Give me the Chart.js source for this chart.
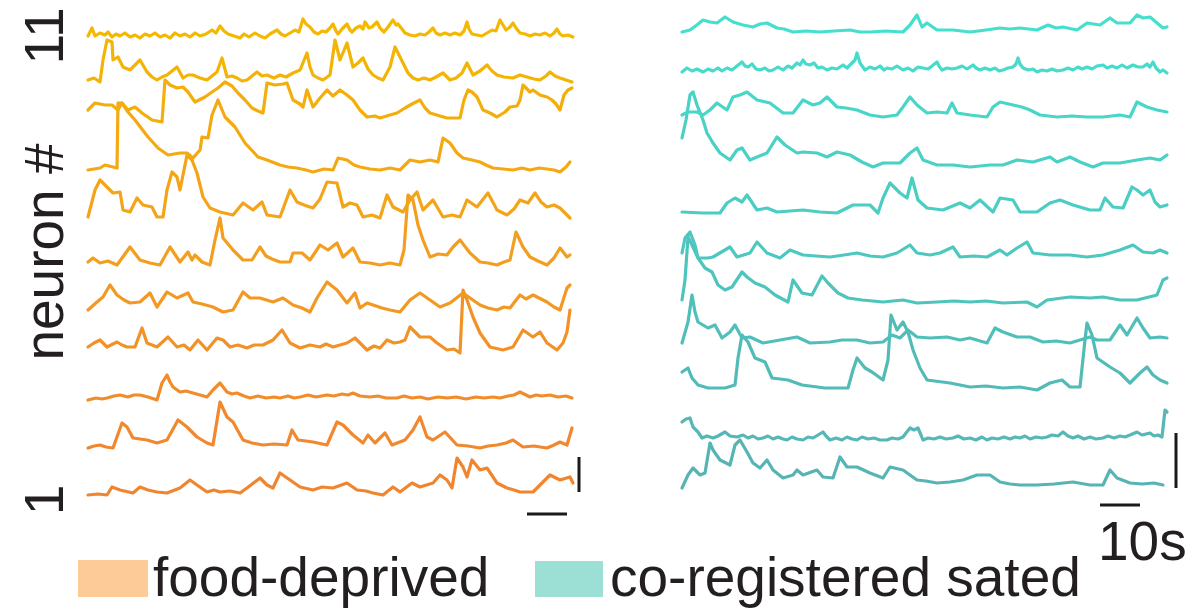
<!DOCTYPE html>
<html>
<head>
<meta charset="utf-8">
<title>Calcium traces</title>
<script src="https://cdn.jsdelivr.net/npm/chart.js@4.4.1/dist/chart.umd.min.js"></script>
<style>
  html, body { margin: 0; padding: 0; background: #fff; }
  body { width: 1192px; height: 613px; position: relative; overflow: hidden;
         font-family: "Liberation Sans", Arial, sans-serif; color: #231f20; }
  canvas { position: absolute; top: 0; }
  #deprivedChart { left: 0; }
  #satedChart { left: 600px; }
  .swatch { position: absolute; }
  .legend-text { position: absolute; font-size: 55px; line-height: 55px; white-space: nowrap; }
</style>
</head>
<body>
<canvas id="deprivedChart" width="600" height="525"></canvas>
<canvas id="satedChart" width="592" height="575"></canvas>

<div class="swatch" style="left:78px; top:560px; width:70px; height:37px; background:#fdcb97;"></div>
<div class="legend-text" style="left:153px; top:550px;">food-deprived</div>
<div class="swatch" style="left:535px; top:561px; width:68px; height:36px; background:#9ce0d5;"></div>
<div class="legend-text" style="left:610px; top:550px;">co-registered sated</div>

<script>
// time in s, signal in ΔF units; one list per neuron, [t, value] pairs
const neuronLabels = ['11', '10', '9', '8', '7', '6', '5', '4', '3', '2', '1'];

// food-deprived session
const fdN11 = [[0,1],[1,9],[1.75,1],[3,4],[4.25,2],[5,5],[6,0],[7,3],[8,1],[9.25,4],[10.5,0],[11.75,2],[13,-1],[14.25,3],[15.5,1],[16.75,4],[18,0],[19.25,2],[20.5,-1],[21.75,4],[23,1],[24.25,3],[25.5,0],[26.75,4],[28,1],[29.5,3],[31,7],[32,4],[33,11],[34,6],[35,3],[36.5,1],[38,-1],[39,3],[40.25,0],[41.75,4],[43,1],[44.25,-1],[45.5,3],[47.25,7],[48.25,3],[49.25,1],[50.5,4],[51.75,7],[52.75,5],[53.75,18],[54.5,13],[55.5,10],[56.5,5],[57.5,3],[58.5,6],[59.5,5],[60.5,9],[61.25,13],[62,6],[62.5,3],[63.5,8],[64.75,13],[65.5,7],[66,5],[67,9],[68,11],[68.75,8],[69.25,15],[70.25,9],[71,10],[72.25,15],[73,9],[74,5],[75,10],[76.25,17],[77,12],[77.5,13],[78.5,8],[79.25,4],[80.5,2],[81.75,1],[83,3],[84.25,2],[85.25,5],[86.25,9],[87,4],[88,2],[89.25,4],[90.5,2],[91.75,4],[93,2],[94,6],[94.75,15],[95.25,8],[96,3],[97.25,2],[98.5,1],[99.75,4],[101,7],[102,6],[103,17],[103.75,12],[104.5,7],[105.5,10],[106.25,14],[107,9],[108,4],[109.25,3],[110.5,1],[111.75,3],[113,2],[114.25,4],[115.5,1],[116.5,4],[117.25,8],[118,3],[118.75,1],[120,2],[121.25,0]];
const fdN10 = [[0,1],[1.5,3],[3,-1],[3.75,21],[4.75,41],[6,39],[6.25,21],[7.5,24],[8.75,14],[10.5,11],[11.75,16],[13,21],[14.75,9],[16,4],[17.25,1],[18.5,4],[19.75,6],[21,10],[22.25,14],[23.75,3],[25,6],[26.25,6],[28,3],[29.75,1],[31,5],[32.25,9],[33.5,23],[34.75,4],[36,5],[37.25,3],[38.5,0],[39.75,1],[41,5],[42.25,9],[43.5,5],[44.75,6],[46.5,3],[48,6],[49.5,4],[51.25,8],[53,11],[54.75,28],[55.5,14],[56.25,6],[57.5,3],[58.75,1],[60.5,6],[61.75,41],[63,21],[64.75,38],[66.25,14],[67.5,18],[68.75,23],[70,12],[71.25,6],[72.5,3],[73.75,1],[75.5,14],[76.75,34],[78.75,18],[80,8],[81.25,3],[82.5,1],[84,3],[85.5,1],[87,4],[88.75,8],[90.5,1],[92,3],[93.5,8],[94.75,18],[96.25,6],[98,10],[99.75,16],[101,10],[102.25,6],[104,4],[106.25,3],[108,6],[109.75,4],[111.5,2],[113,1],[114.5,5],[115.5,9],[116.75,5],[118,3],[119.5,1],[121,-1]];
const fdN9 = [[0,0],[1.75,7],[4.25,5],[6,5],[7.5,0],[8.5,7],[10,0],[11.75,3],[13.5,-3],[16,-10],[18.5,-12],[19.25,30],[20.5,25],[22.25,22],[23.75,23],[25,18],[26.75,8],[29.25,13],[31,18],[32.5,22],[34.25,28],[36,24],[37.5,17],[39.25,10],[41,2],[42.5,-1],[43.75,-3],[44.75,27],[46.75,25],[48.75,26],[49.75,27],[51.25,10],[53,6],[53.75,3],[54.75,20],[56.25,3],[58,12],[59.75,20],[61.25,14],[63,20],[64.75,15],[66.25,10],[68,0],[69.75,-7],[71.75,-6],[73,-8],[75.5,-5],[77.25,-3],[79.25,2],[81,6],[83,10],[84.25,2],[85.5,-3],[88,-6],[89.75,-8],[93,-8],[94,10],[95,20],[96,18],[97.25,13],[98.75,0],[100.5,-3],[102.25,-7],[104.25,-2],[105.5,3],[107.25,4],[108,10],[108.75,25],[110.5,18],[111.25,20],[113,15],[114.75,13],[116,10],[117,6],[118,0],[119,15],[120,20],[121,22]];
const fdN8 = [[0,-1],[3,1],[4.25,4],[6.25,2],[7.25,1],[7.5,66],[8.5,66],[10,57],[11.75,49],[15,32],[17.5,21],[20,14],[23,16],[24.75,16],[26.25,11],[28,19],[28.5,32],[30,31],[31,54],[32.5,69],[34.25,52],[36.75,42],[39.25,26],[42.5,12],[44.75,9],[48,4],[50,2],[52.25,1],[54.5,-1],[56.25,-3],[59,0],[61.25,-1],[62.5,11],[64.75,9],[66.5,4],[68,2],[70.5,0],[73,-1],[75.5,1],[78,-1],[80.5,9],[83,7],[85.5,9],[87.5,7],[88.75,31],[90.5,26],[92.25,16],[93.75,11],[96,9],[98,7],[99.5,4],[101.25,1],[103.75,0],[106.25,-1],[108.5,1],[110.5,-1],[112.75,1],[114.75,0],[116.5,-1],[118,-3],[119.5,2],[120.5,7]];
const fdN7 = [[0,0],[1.75,27],[3,37],[4.75,30],[6.25,24],[8,25],[8.75,7],[10.5,5],[12.25,19],[13.75,12],[16,10],[17.25,0],[18.75,0],[19.75,27],[21,45],[22.25,40],[23,27],[24.75,62],[26,57],[27.25,44],[28.75,20],[30.5,9],[33,5],[36.25,2],[38.75,14],[41.25,7],[43.5,15],[44.75,2],[48,0],[50.5,27],[52.25,15],[54,12],[56.25,9],[58,18],[59.75,35],[62.25,34],[63.75,10],[65.5,14],[67.25,12],[68.75,0],[71,2],[73,-1],[74.75,22],[76.25,10],[78.75,5],[80.5,17],[82.25,25],[83.75,7],[86.25,17],[88.75,0],[91,2],[93,0],[94.75,17],[97.25,10],[100,24],[102.25,7],[104.75,2],[106.5,8],[108,17],[110,14],[111.75,24],[113.25,15],[114.75,10],[116.5,12],[118,9],[120.5,-1]];
const fdN6 = [[0,2],[1.25,6],[3,1],[5,3],[7.25,-1],[10.5,17],[13,4],[15.5,1],[18,-1],[20.5,17],[23,2],[25,12],[26,4],[26.75,9],[28.5,2],[30.5,-1],[31.75,24],[33,46],[33.75,26],[36.25,14],[38.75,4],[41,4],[43,17],[44.5,8],[46,5],[48,2],[50.5,2],[51.25,11],[53.5,11],[55.5,4],[58,19],[60,14],[62.25,21],[63.75,7],[66.25,16],[68,2],[70.5,1],[73,-1],[75.5,1],[78,-1],[79,14],[80,69],[81.25,64],[82.5,39],[83.75,24],[85.5,7],[87.5,10],[89.75,9],[91.25,17],[93,24],[95.5,11],[98,2],[100,1],[102.25,-1],[104,2],[105.5,4],[107,32],[108.75,17],[110.5,7],[112.5,3],[114.75,-1],[116.5,6],[118,16],[119.75,7],[120.5,9]];
const fdN5 = [[0,-2],[2.25,6],[3.75,11],[5.5,23],[7.25,13],[9,8],[10.5,5],[13,6],[15.5,15],[17.25,1],[19.75,16],[22.25,10],[25,15],[26.25,6],[28.5,4],[31.25,1],[33.75,-4],[36.25,-2],[38.75,16],[40.5,10],[43,10],[46.25,6],[48.75,10],[51.25,3],[53.5,0],[55.5,-4],[57.25,10],[59.75,26],[62.25,18],[64.75,5],[66.75,15],[68,0],[69.75,5],[71.25,3],[73.5,0],[75.5,-2],[78,-4],[80.5,8],[83,15],[85.5,8],[88,1],[90.5,5],[93.75,15],[95.5,10],[98,3],[100,0],[102.25,-2],[104,1],[105.5,0],[108,13],[109.5,9],[111.25,13],[114.75,6],[116.5,1],[118,-2],[119.75,20],[120.5,23]];
const fdN4 = [[0,0],[1.5,4],[3,7],[4.75,0],[7.25,5],[8.5,2],[9.75,0],[11.75,0],[13.5,19],[14.75,4],[17.25,0],[20,10],[22.25,0],[24,2],[25.5,-3],[27.5,7],[29.75,-3],[32.25,9],[33.75,7],[35.5,0],[37.5,2],[39.75,-1],[41.5,2],[43.75,2],[46.25,7],[48.5,17],[50.5,4],[53,-1],[55.5,2],[58,0],[59.5,3],[61.25,0],[64.75,4],[66.75,9],[69.75,-3],[71.5,1],[73,-1],[74.75,7],[76.5,4],[78,5],[79.25,7],[80.5,20],[83,10],[85.5,10],[87.25,4],[89.75,-3],[91.5,-2],[93,-6],[93.75,57],[94.75,47],[96.25,30],[98,14],[100.5,0],[103.75,-3],[106.25,0],[108.75,17],[111.25,10],[113,15],[114.75,4],[117.25,-3],[118.75,4],[119.75,15],[120.5,37]];
const fdN3 = [[0,-2],[2,0],[3.5,-1],[4.75,0],[6.5,2],[8,3],[10,1],[11.5,3],[13,3],[15,1],[17.25,-2],[18.5,15],[19.75,23],[20.5,16],[21.25,11],[23,6],[24.5,7],[26.25,5],[28,3],[29.75,1],[31.25,8],[33,15],[34.75,6],[36,4],[37.25,5],[39,2],[40.5,0],[42.5,2],[44.5,0],[46.5,1],[48,0],[50,2],[51.5,0],[53,1],[55,3],[57,1],[59.75,3],[61.5,2],[63.5,4],[65,3],[66.25,5],[68,2],[70.5,1],[72.5,2],[74.5,0],[77.25,0],[79,2],[81,0],[83,1],[85,-1],[87.5,1],[89.75,0],[92,1],[94.5,-1],[97,1],[99,0],[101.25,1],[103,0],[105,2],[106.5,3],[108,6],[109,4],[110.5,1],[112,3],[113.5,2],[115.5,3],[117.5,1],[119.5,2],[121,0]];
const fdN2 = [[0,-1],[1.5,1],[3,2],[4.5,0],[6.25,-1],[8.5,24],[9.75,20],[11.25,9],[13,8],[14.75,7],[17.25,4],[19.75,7],[22.5,27],[24.75,20],[27.25,10],[29.75,4],[31.25,2],[33,45],[34.75,30],[36.25,25],[38.75,7],[41,4],[43.75,2],[46.5,3],[49.75,2],[51,17],[52.5,7],[54.5,6],[56.25,5],[59.75,2],[62.25,25],[63.75,22],[66.25,12],[68.75,4],[70,12],[71.75,4],[74.25,14],[76,2],[79.25,7],[81.25,17],[83,30],[84.75,10],[86.25,7],[89.25,15],[92.25,2],[95,1],[98,-1],[100,1],[102.25,2],[104.5,4],[106.25,7],[108.75,0],[111.5,1],[114.75,-1],[116.5,2],[118,5],[119.75,2],[121,19]];
const fdN1 = [[0,-3],[2.5,-2],[4.75,-3],[6,5],[8,2],[11.25,-1],[13,5],[15,2],[17.25,0],[19.75,-1],[23,4],[25.5,12],[27.25,7],[29.75,0],[31.5,2],[33,0],[35.5,1],[38,-1],[39.75,4],[43,14],[44.75,7],[46.25,4],[48,19],[50.5,12],[53,5],[56.25,2],[58.5,5],[61.25,4],[64.75,9],[67.25,2],[69.5,1],[71.25,-1],[73.75,-3],[76.25,5],[78,0],[81,9],[83,5],[86.25,9],[88,17],[89.75,12],[91,4],[92.25,34],[93.75,25],[94.75,15],[96,32],[98,22],[99.75,24],[102.25,9],[104.75,4],[106.5,2],[108,0],[111.25,0],[113,7],[115.5,17],[118,12],[120.5,15],[121.25,9]];

// co-registered sated session
const csN11 = [[0,0],[2,2],[3.75,7],[5.25,12],[7,10],[8.75,9],[10.75,15],[12.75,10],[15.25,7],[17.75,5],[19.5,8],[21.25,9],[23.75,4],[25.5,3],[27.75,0],[31,1],[34.5,0],[38,1],[42,2],[44.5,0],[47,0],[51,1],[55.25,0],[57,7],[58.75,17],[60,5],[61.25,9],[63.75,2],[67.75,2],[72,0],[76,2],[79.5,4],[82,3],[84.5,4],[88.75,2],[91.5,7],[93.5,4],[95.25,5],[98.75,2],[101.25,9],[104.5,7],[107,14],[108.75,9],[112,9],[113.75,17],[115.25,14],[117,15],[118.75,9],[120.25,4],[121.25,5]];
const csN10 = [[0,0],[1.25,4],[2.5,1],[3.75,3],[5.25,0],[6.5,3],[7.75,1],[9,4],[10,1],[11.25,4],[12.5,2],[13.75,6],[15,10],[15.75,6],[16.5,5],[17.5,8],[18.5,3],[19.5,2],[20.75,4],[21.75,1],[22.75,2],[24,5],[25.25,2],[26.5,6],[27.5,4],[28.75,9],[29.5,7],[30.25,12],[31,8],[32,7],[33,9],[34,4],[35,5],[36.25,2],[37.5,4],[38.75,3],[40.25,7],[41.25,4],[42.5,9],[43.25,12],[43.75,19],[44.5,9],[45.75,2],[47,5],[48.25,3],[49.5,6],[50.5,2],[51.25,4],[52.5,3],[53.75,6],[55.25,2],[56.5,4],[57.75,1],[59,5],[60.25,4],[61.5,3],[62.5,6],[63.75,10],[64.25,6],[65,2],[66.25,4],[67.5,3],[68.75,4],[70,6],[71.25,3],[72.75,7],[73.5,4],[74.5,2],[75.75,4],[77,2],[78.25,4],[79.25,1],[80.25,2],[81.5,4],[82.75,5],[83.5,8],[84,14],[84.5,8],[85.25,4],[86.5,2],[87.75,3],[88.75,0],[90,2],[91.25,1],[92.5,3],[93.75,1],[95.25,2],[96.5,4],[97.75,2],[99,5],[100,3],[101.25,5],[102.5,3],[103.75,6],[105.25,7],[106.25,4],[107.5,6],[108.75,4],[110,7],[111.25,4],[112.75,7],[114,5],[115.25,5],[116.25,8],[117,5],[117.75,10],[118.5,4],[119.5,0],[120.25,2],[121.25,-1]];
const csN9 = [[0,2],[1.5,5],[3.75,5],[5.25,2],[7,7],[8.75,14],[11.25,7],[12.75,20],[14.5,22],[16.25,25],[18.75,17],[22,14],[25.25,4],[27.75,4],[30.25,17],[32.75,12],[34.5,14],[36.25,20],[38.75,10],[41,9],[43.75,7],[47,2],[50.25,0],[53.75,2],[55.25,10],[57,20],[58.75,12],[61.25,4],[63.75,5],[66.25,4],[67.5,14],[68.75,4],[72,2],[76.25,0],[77.75,10],[79.5,15],[82.75,12],[85,10],[87,7],[89.5,2],[93.75,0],[97.5,1],[101.25,0],[105.25,0],[109.5,2],[112,0],[113.75,15],[116.25,10],[118.75,7],[121.25,5]];
const csN8 = [[0,27],[1,45],[2,70],[2.75,73],[3.75,60],[5.25,45],[6.25,32],[7.75,22],[9.5,12],[12,5],[13.75,15],[15,17],[17,5],[18.75,8],[21.25,12],[23.75,28],[25.75,20],[28.75,12],[30.25,13],[33.75,12],[36.25,8],[38.75,13],[42,10],[45,3],[47.75,-2],[50.25,2],[54.5,2],[57,12],[58.75,17],[60.25,5],[63.75,0],[67.75,0],[72,-2],[77,0],[80.25,0],[83.75,5],[87.75,3],[92,8],[93.75,3],[97,8],[99.5,3],[102.75,-2],[105.25,2],[109.5,2],[113.75,5],[117,7],[119.5,5],[121.25,10]];
const csN7 = [[0,0],[5.25,-1],[9.5,-1],[11.25,9],[13.25,14],[15,10],[16.25,17],[18.75,2],[21.25,4],[23.75,0],[27,1],[30.25,2],[34.5,0],[38.75,-1],[42.75,7],[47,7],[49,-1],[50.25,14],[52,29],[54.5,19],[56.25,14],[57.5,34],[59,12],[61.25,4],[65.25,2],[69.5,9],[72,4],[74.5,12],[77.75,0],[79.5,14],[82.75,12],[84.5,0],[88.75,0],[92,9],[94.5,12],[97.75,7],[102,2],[104.5,2],[105.75,14],[107.75,5],[110.25,4],[112.5,25],[113.75,22],[115.25,17],[117,22],[118.25,10],[119.5,5],[121.25,7]];
const csN6 = [[0,4],[0.75,19],[2,25],[3.25,12],[4,-1],[6.5,-1],[7.75,0],[12,10],[13.75,0],[17,4],[18.75,15],[21.25,4],[24.5,-1],[27,7],[30.25,2],[33.5,1],[37,0],[40.5,2],[43.75,4],[47,1],[50.25,0],[53.75,4],[57,12],[58.75,4],[62,2],[64.5,4],[67.75,10],[69.5,0],[73,1],[76.25,0],[79.5,7],[81.25,2],[83.75,9],[86.25,15],[87.75,4],[92,2],[97,2],[101.25,0],[105.25,2],[109.5,7],[112.75,12],[115.25,5],[117.75,4],[119.5,7],[121.25,4]];
const csN5 = [[0,2],[0.75,22],[1.5,65],[2.5,57],[4,44],[5.75,34],[7.5,30],[9,17],[10.75,12],[12.5,15],[15,30],[16.25,25],[18.25,19],[20.75,15],[23.25,7],[26.5,0],[27.75,22],[30,9],[32.5,7],[35,26],[36.5,19],[39,9],[41.5,4],[45,2],[50.25,0],[55.25,2],[58.75,-1],[63.75,0],[68,1],[72,0],[76,1],[80.25,-1],[86.25,0],[88.75,-5],[91.25,2],[97,5],[102,4],[105.25,5],[109.5,2],[113.75,2],[118.75,7],[120.25,22],[121.25,24]];
const csN4 = [[0,-1],[1.5,20],[2.5,47],[3.25,30],[4,20],[6.5,14],[8.25,17],[10,4],[12,10],[13.25,17],[15,4],[17,5],[20.25,-1],[24.5,2],[28.75,5],[32,-1],[37,0],[40,2],[43.75,2],[47,-1],[50.25,0],[52.5,7],[54.5,4],[56.5,12],[58.75,5],[62,4],[66.25,5],[69.5,2],[72,4],[76.25,-1],[78.25,14],[80.25,10],[83.75,5],[87,5],[90.25,0],[93.5,1],[97,-1],[99.5,2],[102,5],[103.75,2],[107,2],[109.5,17],[111.25,7],[113.75,24],[115.25,14],[117,4],[119.5,5],[121.25,4]];
const csN3 = [[0,15],[1.5,19],[2.5,9],[4,2],[6.5,-1],[10.75,-1],[13.25,2],[14,29],[15,52],[16.5,45],[18.25,29],[20.75,25],[22.5,9],[26.5,7],[30,2],[35.75,-1],[41.5,-1],[42.75,17],[43.75,29],[45.75,19],[47.5,15],[50.25,7],[51.5,27],[52.25,72],[53.75,57],[55.25,65],[56.5,55],[57.75,37],[59.5,19],[61.25,7],[67,4],[72,0],[76,1],[80.25,-1],[84.5,0],[88.75,-3],[92,4],[95,7],[97,0],[99.5,0],[100.75,47],[101.25,64],[102.5,52],[103.75,29],[107,20],[109.5,14],[112,4],[114.5,14],[116.25,20],[117.75,12],[119.5,7],[121.25,4]];
const csN2 = [[0,17],[1,20],[2,21],[2.75,12],[4,7],[5,1],[6.25,3],[7.75,1],[9,3],[10.75,7],[12,3],[13.75,2],[15.25,4],[16.5,1],[17.75,3],[19,0],[20.25,1],[21.5,3],[22.75,0],[24,2],[25.25,0],[26.25,-1],[27.5,2],[28.75,0],[30.25,-1],[31.5,2],[32.75,1],[34,4],[35.25,7],[36,3],[37,-1],[38.5,1],[40,-1],[41.25,2],[42.5,0],[43.75,-1],[45,2],[46.5,0],[48,1],[49.5,-1],[51.25,-1],[52.5,1],[54,0],[55.25,2],[56,6],[57,11],[58,9],[59,11],[59.75,4],[60.25,-1],[61.5,1],[63,0],[64.5,2],[66,0],[67.75,1],[69,3],[70.5,0],[72,1],[73.5,-1],[75,2],[76.25,-1],[77.5,1],[79,0],[80.5,2],[82,0],[83.25,2],[84.5,1],[85.75,3],[87,0],[88.5,2],[90,1],[91.25,2],[92.5,4],[94,3],[95.25,7],[96.5,3],[97.75,1],[99,3],[100.5,0],[102,2],[103.5,0],[105.25,1],[106.5,3],[108,1],[109.5,3],[110.75,2],[112,4],[113.75,7],[115,4],[116,5],[117,6],[118,3],[119,4],[120,2],[120.75,29],[121.25,27]];
const csN1 = [[0,-3],[1.5,10],[2.75,17],[4.5,10],[5.75,12],[7,42],[7.75,35],[9.5,25],[12,20],[13.25,40],[14.5,45],[16.25,33],[17.75,22],[19.5,17],[21.25,25],[22.75,15],[25.25,7],[27.75,10],[28.75,15],[30.25,10],[33.75,15],[35.25,8],[37.75,7],[39.5,28],[41.25,18],[43.75,18],[47,12],[50.25,7],[52,18],[55.25,15],[58.75,5],[61,4],[63.75,2],[67,3],[70.25,5],[73.75,10],[77,10],[79.5,3],[82,1],[84.5,0],[88.75,0],[93,1],[97.75,3],[102,0],[105.25,0],[107,15],[108.75,7],[112,2],[115,1],[118,2],[120.25,0]];

const deprivedTraces = [fdN11, fdN10, fdN9, fdN8, fdN7, fdN6, fdN5, fdN4, fdN3, fdN2, fdN1];
const satedTraces = [csN11, csN10, csN9, csN8, csN7, csN6, csN5, csN4, csN3, csN2, csN1];

// stacking offset of each neuron's baseline
const deprivedOffsets = [483, 439, 410, 351, 303, 256, 212, 173, 122, 73, 28];
const satedOffsets = [488, 448, 403, 355, 308, 263, 218, 178, 133, 81, 35];

// scale bars: 10 s and ΔF
const scaleBarSeconds = 10;
const deprivedBarDff = 35;
const satedBarDff = 55;
const traceSeconds = 121.25;

(function () {
    const deprivedColors = ['#f5b800', '#f4b405', '#f4ae0c', '#f4a912', '#f4a418', '#f39e1e', '#f39822', '#f29226', '#f18c2a', '#f1882d', '#f08530'];
    const satedColors = ['#45dfcd', '#46dbcb', '#47d6c8', '#49d1c5', '#4acdc3', '#4cc8c0', '#4ec4bd', '#50bfba', '#52bbb8', '#55b7b6', '#57b4b4'];

    function buildDatasets(traces, offsets, colors) {
        return traces.map((trace, i) => ({
            label: 'neuron ' + neuronLabels[i],
            data: trace.map(([t, v]) => ({ x: t, y: v + offsets[i] })),
            borderColor: colors[i],
            borderWidth: 3.2,
            borderJoinStyle: 'round',
            borderCapStyle: 'round',
            pointRadius: 0,
            tension: 0,
            clip: false
        }));
    }

    // scale bars and axis text, drawn after the traces
    const overlayPlugin = {
        id: 'overlay',
        afterDatasetsDraw(chart, args, opts) {
            const ctx = chart.ctx;
            const xs = chart.scales.x;
            const ys = chart.scales.y;
            ctx.save();
            ctx.fillStyle = '#1a1a1a';

            const hx0 = xs.getPixelForValue(opts.hBar.t);
            const hx1 = xs.getPixelForValue(opts.hBar.t + scaleBarSeconds);
            const hy = ys.getPixelForValue(opts.hBar.y);
            ctx.fillRect(hx0, hy - 1.5, hx1 - hx0, 3);

            const vx = xs.getPixelForValue(opts.vBar.t);
            const vy0 = ys.getPixelForValue(opts.vBar.y);
            const vy1 = ys.getPixelForValue(opts.vBar.y + opts.vBar.dff);
            ctx.fillRect(vx - 1.5, vy1, 3, vy0 - vy1);

            ctx.fillStyle = '#231f20';
            ctx.font = '55px "Liberation Sans", Arial, sans-serif';
            if (opts.timeLabel) {
                ctx.textAlign = 'left';
                ctx.textBaseline = 'alphabetic';
                ctx.fillText(opts.timeLabel, hx0 - 2, opts.timeLabelY);
            }
            (opts.rotated || []).forEach((item) => {
                let y = item.y;
                if (item.neuron !== undefined) {
                    y = ys.getPixelForValue(opts.offsets[item.neuron]) + item.dy;
                }
                ctx.save();
                ctx.translate(item.x, y);
                ctx.rotate(-Math.PI / 2);
                ctx.textAlign = 'center';
                ctx.textBaseline = 'alphabetic';
                ctx.fillText(item.text, 0, 0);
                ctx.restore();
            });
            ctx.restore();
        }
    };

    function createChart(canvasId, datasets, padding, overlay) {
        const canvas = document.getElementById(canvasId);
        if (!canvas || typeof Chart === 'undefined') return null;
        return new Chart(canvas, {
            type: 'line',
            data: { datasets },
            options: {
                responsive: false,
                animation: false,
                events: [],
                layout: { padding },
                plugins: {
                    legend: { display: false },
                    tooltip: { enabled: false },
                    overlay
                },
                scales: {
                    x: { type: 'linear', display: false, min: 0, max: traceSeconds },
                    y: { type: 'linear', display: false, min: 0, max: 520 }
                }
            },
            plugins: [overlayPlugin]
        });
    }

    createChart('deprivedChart',
        buildDatasets(deprivedTraces, deprivedOffsets, deprivedColors),
        { left: 88, right: 27, top: 0, bottom: 5 },
        {
            offsets: deprivedOffsets,
            hBar: { t: 109.75, y: 6 },
            vBar: { t: 122.75, y: deprivedOffsets[10], dff: deprivedBarDff },
            rotated: [
                { text: '11', x: 63, neuron: 0, dy: -1 },
                { text: 'neuron #', x: 63, y: 252 },
                { text: '1', x: 63, neuron: 10, dy: 8 }
            ]
        });

    createChart('satedChart',
        buildDatasets(satedTraces, satedOffsets, satedColors),
        { left: 82, right: 25, top: 0, bottom: 55 },
        {
            offsets: satedOffsets,
            hBar: { t: 104.5, y: 15 },
            vBar: { t: 123.5, y: 32, dff: satedBarDff },
            timeLabel: '10s',
            timeLabelY: 560
        });
})();
</script>
</body>
</html>
